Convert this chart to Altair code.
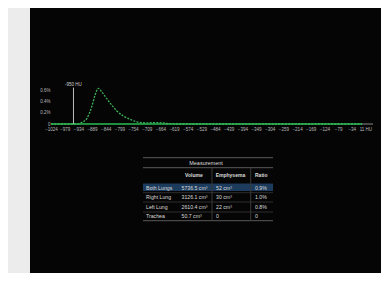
import altair as alt
import pandas as pd

# ---- histogram data (HU vs % of lung voxels) ----
hu = [-1024, -935, -922, -906, -890, -879, -868, -857, -841, -824, -808,
      -786, -764, -742, -709, -682, -655, -632, -599, -500, -300, -100, 0]
pct = [0, 0, 0.03, 0.10, 0.31, 0.52, 0.643, 0.58, 0.46, 0.34, 0.24,
       0.144, 0.085, 0.04, 0.02, 0.025, 0.02, 0.005, 0, 0, 0, 0, 0]
base_hu = [-1024, 0]
threshold = [-950]
threshold_label = ["-950 HU"]
x_ticks = [-1024, -979, -934, -889, -844, -799, -754, -709, -664, -619, -574,
           -529, -484, -439, -394, -349, -304, -259, -214, -169, -124, -79, -34, 11]
y_ticks = [0, 0.2, 0.4, 0.6]

# ---- table data ----
table_title = ["Measurement"]
col_names = ["Volume", "Emphysema", "Ratio"]
row_names = ["Both Lungs", "Right Lung", "Left Lung", "Trachea"]
volume = ["5736.5 cm³", "3126.1 cm³", "2610.4 cm³", "50.7 cm³"]
emphysema = ["52 cm³", "30 cm³", "22 cm³", "0"]
ratio = ["0.9%", "1.0%", "0.8%", "0"]

FONT = "Liberation Sans"
X_DOMAIN = [-1024, 36]
Y_DOMAIN = [0, 0.648]

xs = alt.Scale(domain=X_DOMAIN, nice=False, zero=False)
ys = alt.Scale(domain=Y_DOMAIN, nice=False, zero=False)

panel = alt.Chart(pd.DataFrame({"a": [0]})).mark_rect(color="#050505").encode(
    x=alt.value(-21), x2=alt.value(330), y=alt.value(-80), y2=alt.value(185)
)

x_axis = alt.Axis(values=x_ticks, domain=False, ticks=False, grid=False,
                  labelPadding=2.5, labelFlush=False, labelOverlap=False,
                  labelBound=False, zindex=1,
                  labelColor="#bbbbbb", labelFontSize=4.5, labelFont=FONT,
                  labelExpr="datum.value == 11 ? '11 HU' : format(datum.value, 'd')")
y_axis = alt.Axis(values=y_ticks, domain=False, ticks=False, grid=False,
                  labelPadding=1, labelOverlap=False, labelBound=False, zindex=1,
                  labelColor="#bbbbbb", labelFontSize=4.5, labelFont=FONT,
                  labelExpr="datum.value == 0 ? '0' : format(datum.value, '.1f') + '%'")

axis_line = alt.Chart(pd.DataFrame({"a": [0]})).mark_rule(
    color="#8a8a8a", strokeWidth=1
).encode(
    x=alt.X("datum_x:Q", scale=xs, title=None, axis=x_axis),
    x2=alt.X2("datum_x2:Q"),
    y=alt.Y("datum_y:Q", scale=ys, title=None, axis=y_axis),
).transform_calculate(datum_x=str(X_DOMAIN[0]), datum_x2=str(X_DOMAIN[1]), datum_y="0")

baseline = alt.Chart(pd.DataFrame({"hu": base_hu, "v": [0, 0]})).mark_line(
    color="#1f8f3f", strokeWidth=2
).encode(x=alt.X("hu:Q", scale=xs, title=None, axis=x_axis),
         y=alt.Y("v:Q", scale=ys, title=None, axis=y_axis))

curve = alt.Chart(pd.DataFrame({"hu": hu, "pct": pct})).mark_line(
    color="#3cb35a", strokeWidth=1.3, strokeDash=[2, 1.3], interpolate="monotone"
).encode(x=alt.X("hu:Q", scale=xs, title=None, axis=x_axis),
         y=alt.Y("pct:Q", scale=ys, title=None, axis=y_axis))

thr_df = pd.DataFrame({"hu": threshold, "label": threshold_label})
thr_rule = alt.Chart(thr_df).mark_rule(color="#bdbdbd", strokeWidth=1).encode(
    x=alt.X("hu:Q", scale=xs, title=None, axis=x_axis),
    y=alt.Y(datum=0, scale=ys, title=None, axis=y_axis),
    y2=alt.Y2(datum=0.655),
)
thr_text = alt.Chart(thr_df).mark_text(
    color="#d0d0d0", fontSize=4.5, font=FONT, align="center", baseline="bottom"
).encode(
    x=alt.X("hu:Q", scale=xs, title=None, axis=x_axis),
    y=alt.Y(datum=0.66, scale=ys, title=None, axis=y_axis),
    text="label:N",
)

hist = alt.layer(axis_line, baseline, curve, thr_rule, thr_text)

# ---- table layout (table-local pixel units) ----
TW, TH = 130, 63
row_bounds = [0, 10, 25.5, 35, 44.3, 54.3, 63]
col_left = [3, 38.5, 73, 112]
head_left = [42, 72.7, 112]
col_seps = [69, 107.7]

txs = alt.Scale(domain=[0, TW], range=[92, 222], nice=False, zero=False)
tys = alt.Scale(domain=[0, TH], range=[69.7, 132.7], nice=False, zero=False)


def mid(i):
    return (row_bounds[i] + row_bounds[i + 1]) / 2


title_df = pd.DataFrame({"x": [TW / 2 - 2], "y": [mid(0)], "t": table_title})
head_df = pd.DataFrame({"x": head_left, "y": [mid(1)] * len(col_names), "t": col_names})
cells = []
for i, r in enumerate(row_names):
    vals = [r, volume[i], emphysema[i], ratio[i]]
    for j, v in enumerate(vals):
        cells.append({"x": col_left[j], "y": mid(i + 2), "t": v})
cells_df = pd.DataFrame(cells)

TX = alt.X("x:Q", scale=txs, axis=None, title=None)
TY = alt.Y("y:Q", scale=tys, axis=None, title=None)

hl_df = pd.DataFrame({"x": [0], "x2": [TW], "y": [row_bounds[2] + 0.3], "y2": [row_bounds[3] - 1.7]})
highlight = alt.Chart(hl_df).mark_rect(color="#1d3b5c").encode(
    x=TX, x2="x2:Q", y=TY, y2="y2:Q",
)

hlines = pd.DataFrame({
    "x": [0] * 6, "x2": [TW] * 6,
    "y": [row_bounds[0], row_bounds[1], row_bounds[3], row_bounds[4], row_bounds[5], row_bounds[6]],
    "c": ["#5a5a5a", "#5a5a5a", "#2e2e2e", "#2e2e2e", "#2e2e2e", "#5a5a5a"],
})
hrules = alt.Chart(hlines).mark_rule(strokeWidth=1).encode(
    x=TX, x2="x2:Q", y=TY, color=alt.Color("c:N", scale=None),
)
vlines = pd.DataFrame({"x": col_seps, "y": [row_bounds[1]] * 2, "y2": [row_bounds[6]] * 2})
vrules = alt.Chart(vlines).mark_rule(color="#3a3a3a", strokeWidth=1).encode(
    x=TX, y=TY, y2="y2:Q",
)

t_cells = alt.Chart(cells_df).mark_text(
    color="#dcdcdc", font=FONT, align="left", baseline="middle", fontSize=5.2
).encode(x=TX, y=TY, text="t:N")
t_head = alt.Chart(head_df).mark_text(
    color="#dcdcdc", font=FONT, align="left", baseline="middle", fontSize=5, fontWeight="bold"
).encode(x=TX, y=TY, text="t:N")
t_title = alt.Chart(title_df).mark_text(
    color="#dcdcdc", font=FONT, align="center", baseline="middle", fontSize=5.5
).encode(x=TX, y=TY, text="t:N")

table = alt.layer(highlight, hrules, vrules, t_cells, t_head, t_title)

chart = alt.layer(panel, hist, table).resolve_scale(
    x="independent", y="independent"
).properties(
    width=322, height=36,
    autosize=alt.AutoSizeParams(type="none"),
    padding={"left": 43, "top": 80, "right": 8, "bottom": 149},
    background="#ececec",
).configure_view(stroke=None)

chart.save("out.html", embed_options={"renderer": "svg", "actions": False})
